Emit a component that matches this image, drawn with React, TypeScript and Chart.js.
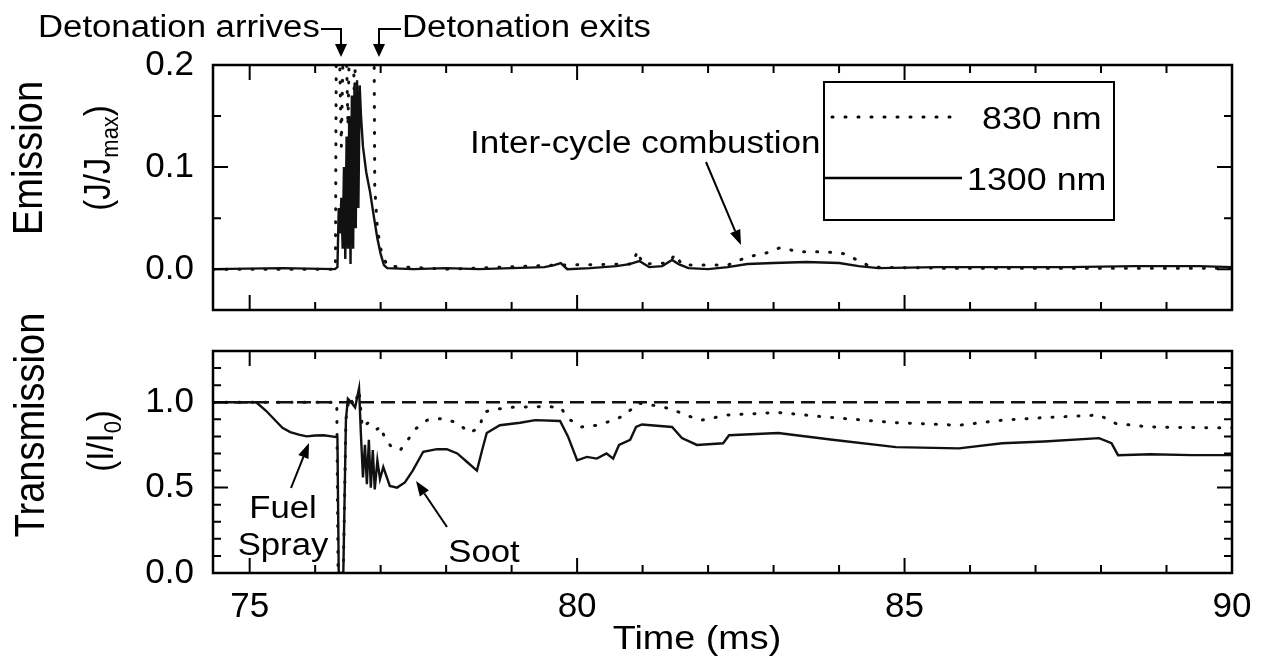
import React, { useEffect, useRef } from "react";
import { Chart, registerables } from "chart.js";
Chart.register(...registerables);

const FONT = '"Liberation Sans", Arial, Helvetica, sans-serif';

// ---- axes ----
const timeMin = 74.44;
const timeMax = 90;
const timeTicks = [75, 80, 85, 90];
const timeMinorTicks = [75, 76, 77, 78, 79, 80, 81, 82, 83, 84, 85, 86, 87, 88, 89, 90];

const emissionMin = -0.04;
const emissionMax = 0.2;
const emissionTicks = [0, 0.1, 0.2];
const emissionMinorTicks = [0.05, 0.15];

const transMin = 0;
const transMax = 1.3;
const transTicks = [0, 0.5, 1.0];
const transMinorTicks = [0.1, 0.2, 0.3, 0.4, 0.6, 0.7, 0.8, 0.9, 1.1, 1.2];

// ---- emission (top panel) ----
const emTime1300 = [74.44, 75.5, 76.3, 76.34, 76.36, 76.38, 76.4, 76.42, 76.44, 76.46, 76.48, 76.5, 76.52, 76.54, 76.56, 76.58, 76.6, 76.62, 76.64, 76.66, 76.68, 76.7, 76.73, 76.78, 76.84, 76.9, 76.95, 77.0, 77.05, 77.1, 77.5, 78.0, 78.5, 79.0, 79.5, 79.65, 79.75, 79.85, 80.2, 80.6, 80.8, 80.95, 81.1, 81.3, 81.45, 81.55, 81.7, 82.0, 82.3, 82.6, 83.0, 83.5, 84.0, 84.3, 84.6, 85.5, 86.5, 87.5, 88.5, 89.5, 90.0];
const em1300 = [0, 0.001, 0, 0.002, 0.06, 0.035, 0.07, 0.02, 0.1, 0.01, 0.13, 0.02, 0.15, 0.005, 0.17, 0.02, 0.18, 0.04, 0.185, 0.06, 0.18, 0.15, 0.12, 0.095, 0.075, 0.05, 0.03, 0.015, 0.004, 0.001, 0, 0.001, 0, 0.001, 0.002, 0.004, 0.006, 0, 0.001, 0.003, 0.005, 0.008, 0.002, 0.003, 0.009, 0.005, 0.001, 0, 0.002, 0.005, 0.006, 0.007, 0.006, 0.003, 0.001, 0.002, 0.002, 0.002, 0.003, 0.003, 0.002];

const emTime830 = [74.44, 76.31, 76.33, 76.4, 76.45, 76.5, 76.55, 76.6, 76.65, 76.7, 76.75, 76.82, 76.89, 76.91, 76.95, 77.0, 77.1, 78.0, 79.7, 80.85, 80.92, 81.0, 81.4, 81.5, 81.6, 82.3, 82.6, 82.9, 83.1, 83.4, 83.8, 84.1, 84.3, 84.5, 85.5, 90.0];
const em830 = [0, 0, 0.35, 0.12, 0.3, 0.14, 0.32, 0.16, 0.33, 0.2, 0.34, 0.3, 0.35, 0.08, 0.04, 0.02, 0.003, 0, 0.004, 0.005, 0.018, 0.005, 0.006, 0.015, 0.004, 0.004, 0.012, 0.016, 0.021, 0.017, 0.017, 0.015, 0.008, 0.002, 0.001, 0.001];

// ---- transmission (bottom panel) ----
const trTime1300 = [74.44, 75.1, 75.25, 75.4, 75.5, 75.62, 75.75, 75.87, 76.0, 76.13, 76.25, 76.34, 76.36, 76.43, 76.47, 76.5, 76.55, 76.61, 76.67, 76.7, 76.73, 76.76, 76.79, 76.82, 76.85, 76.88, 76.91, 76.95, 76.99, 77.04, 77.14, 77.25, 77.37, 77.49, 77.65, 77.86, 78.01, 78.17, 78.32, 78.47, 78.55, 78.62, 78.82, 79.13, 79.36, 79.74, 79.86, 80.0, 80.15, 80.3, 80.45, 80.55, 80.64, 80.81, 80.9, 80.99, 81.45, 81.6, 81.83, 82.23, 82.32, 83.07, 83.9, 84.87, 85.83, 86.49, 87.13, 87.97, 88.16, 88.26, 88.75, 89.39, 89.91, 90.0];
const tr1300 = [1.0, 1.0, 0.95, 0.89, 0.85, 0.825, 0.81, 0.8, 0.805, 0.807, 0.8, 0.795, 0.0, 0.0, 0.9, 1.02, 1.0, 0.97, 1.08, 0.8, 0.56, 0.75, 0.52, 0.78, 0.5, 0.72, 0.49, 0.66, 0.55, 0.62, 0.51, 0.5, 0.53, 0.6, 0.71, 0.725, 0.725, 0.7, 0.65, 0.6, 0.72, 0.82, 0.865, 0.88, 0.895, 0.89, 0.8, 0.66, 0.68, 0.67, 0.7, 0.67, 0.75, 0.78, 0.855, 0.87, 0.855, 0.79, 0.75, 0.76, 0.807, 0.82, 0.78, 0.737, 0.73, 0.76, 0.77, 0.79, 0.76, 0.69, 0.695, 0.69, 0.69, 0.69];

const trTime830 = [74.44, 76.33, 76.35, 76.43, 76.47, 76.52, 76.6, 76.67, 76.72, 76.81, 76.94, 77.0, 77.07, 77.19, 77.3, 77.4, 77.52, 77.71, 77.94, 78.17, 78.36, 78.52, 78.56, 78.67, 79.0, 79.5, 79.75, 79.86, 80.06, 80.3, 80.56, 80.73, 80.93, 81.2, 81.45, 81.65, 81.9, 82.29, 83.07, 83.9, 84.87, 85.83, 86.49, 87.13, 87.97, 88.23, 88.75, 89.71, 90.0];
const tr830 = [1.0, 1.0, 0.0, 0.0, 0.9, 1.03, 0.98, 1.07, 0.85, 0.88, 0.84, 0.86, 0.78, 0.73, 0.72, 0.77, 0.84, 0.895, 0.905, 0.88, 0.82, 0.855, 0.935, 0.955, 0.97, 0.975, 0.97, 0.905, 0.855, 0.865, 0.895, 0.925, 0.995, 0.98, 0.96, 0.925, 0.895, 0.925, 0.94, 0.91, 0.88, 0.865, 0.895, 0.91, 0.925, 0.875, 0.855, 0.85, 0.85];

const refTime = [timeMin, timeMax];
const refLevel = [1.0, 1.0];

const legendLabels = ["830 nm", "1300 nm"];

// ---- helpers ----
const pts = (xs: number[], ys: number[]) => xs.map((x, i) => ({ x, y: ys[i] }));

function txt(ctx: CanvasRenderingContext2D, s: string, x: number, y: number, size: number, align: CanvasTextAlign = "left", sx = 1.12) {
  ctx.save();
  ctx.font = `${size}px ${FONT}`;
  ctx.fillStyle = "#000";
  ctx.textBaseline = "alphabetic";
  ctx.textAlign = align;
  ctx.translate(x, y);
  ctx.scale(sx, 1);
  ctx.fillText(s, 0, 0);
  ctx.restore();
}

type Part = { t: string; size: number; dy: number };
function vtxt(ctx: CanvasRenderingContext2D, parts: Part[], baseX: number, cy: number, sy = 1.1) {
  ctx.save();
  ctx.fillStyle = "#000";
  ctx.textBaseline = "alphabetic";
  ctx.textAlign = "left";
  let total = 0;
  for (const p of parts) {
    ctx.font = `${p.size}px ${FONT}`;
    total += ctx.measureText(p.t).width;
  }
  ctx.translate(baseX, cy);
  ctx.rotate(-Math.PI / 2);
  ctx.scale(1, sy);
  let x = -total / 2;
  for (const p of parts) {
    ctx.font = `${p.size}px ${FONT}`;
    ctx.fillText(p.t, x, p.dy);
    x += ctx.measureText(p.t).width;
  }
  ctx.restore();
}

function arrow(ctx: CanvasRenderingContext2D, x1: number, y1: number, x2: number, y2: number, len = 15, w = 5.5) {
  const a = Math.atan2(y2 - y1, x2 - x1);
  const bx = x2 - len * Math.cos(a);
  const by = y2 - len * Math.sin(a);
  ctx.save();
  ctx.strokeStyle = "#000";
  ctx.fillStyle = "#000";
  ctx.lineWidth = 2;
  ctx.beginPath();
  ctx.moveTo(x1, y1);
  ctx.lineTo(bx, by);
  ctx.stroke();
  ctx.beginPath();
  ctx.moveTo(x2, y2);
  ctx.lineTo(bx + w * Math.sin(a), by - w * Math.cos(a));
  ctx.lineTo(bx - w * Math.sin(a), by + w * Math.cos(a));
  ctx.closePath();
  ctx.fill();
  ctx.restore();
}

function framePlugin(id: string, yMajor: number[], yMinor: number[], extra: (ctx: CanvasRenderingContext2D, chart: any) => void) {
  return {
    id,
    afterDraw(chart: any) {
      const { ctx, chartArea: a } = chart;
      const xs = chart.scales.x;
      const ys = chart.scales.y;
      ctx.save();
      ctx.strokeStyle = "#000";
      ctx.lineWidth = 2.5;
      ctx.strokeRect(a.left, a.top, a.right - a.left, a.bottom - a.top);
      ctx.lineWidth = 2;
      const major = 15;
      const minor = 8;
      ctx.beginPath();
      for (const v of timeMinorTicks) {
        const L = timeTicks.includes(v) ? major : minor;
        const px = xs.getPixelForValue(v);
        ctx.moveTo(px, a.bottom);
        ctx.lineTo(px, a.bottom - L);
        ctx.moveTo(px, a.top);
        ctx.lineTo(px, a.top + L);
      }
      const ys2 = [...yMajor.map((v) => [v, major]), ...yMinor.map((v) => [v, minor])];
      for (const [v, L] of ys2) {
        const py = ys.getPixelForValue(v);
        ctx.moveTo(a.left, py);
        ctx.lineTo(a.left + L, py);
        ctx.moveTo(a.right, py);
        ctx.lineTo(a.right - L, py);
      }
      ctx.stroke();
      ctx.restore();
      extra(ctx, chart);
    },
  };
}

const solid = { borderColor: "#111", borderWidth: 2.4, pointRadius: 0, tension: 0, fill: false };
const dotted = { borderColor: "#111", borderWidth: 3, pointRadius: 0, tension: 0, fill: false, borderDash: [1, 12], borderCapStyle: "round" };

function yScale(min: number, max: number, ticks: number[], width: number) {
  return {
    type: "linear",
    min,
    max,
    afterBuildTicks: (s: any) => {
      s.ticks = ticks.map((v) => ({ value: v }));
    },
    afterFit: (s: any) => {
      s.width = width;
      s.paddingTop = 0;
      s.paddingBottom = 0;
    },
    grid: { display: false, drawTicks: false, tickLength: 0 },
    border: { display: false },
    ticks: {
      padding: 19,
      color: "#000",
      font: { family: FONT, size: 35 },
      callback: (v: any) => Number(v).toFixed(1),
    },
  };
}

// bottom canvas page offset
const BOT_TOP = 270;
const BOT_H = 388;

export default function App() {
  const topRef = useRef<HTMLCanvasElement>(null);
  const botRef = useRef<HTMLCanvasElement>(null);

  useEffect(() => {
    const topExtra = (ctx: CanvasRenderingContext2D) => {
      // detonation annotations
      txt(ctx, "Detonation arrives", 38, 37, 31);
      txt(ctx, "Detonation exits", 402, 37, 31);
      ctx.save();
      ctx.strokeStyle = "#000";
      ctx.lineWidth = 2;
      ctx.beginPath();
      ctx.moveTo(321, 29);
      ctx.lineTo(341, 29);
      ctx.lineTo(341, 46);
      ctx.moveTo(401, 29);
      ctx.lineTo(379, 29);
      ctx.lineTo(379, 46);
      ctx.stroke();
      ctx.fillStyle = "#000";
      for (const ax of [341, 379]) {
        ctx.beginPath();
        ctx.moveTo(ax - 6, 44);
        ctx.lineTo(ax + 6, 44);
        ctx.lineTo(ax, 57);
        ctx.closePath();
        ctx.fill();
      }
      ctx.restore();
      // inter-cycle
      txt(ctx, "Inter-cycle combustion", 470, 153, 31, "left", 1.13);
      arrow(ctx, 706, 162, 741, 245);
      // legend
      const lx = 824, ly = 82, lw = 290, lh = 138;
      ctx.save();
      ctx.fillStyle = "#fff";
      ctx.fillRect(lx, ly, lw, lh);
      ctx.strokeStyle = "#000";
      ctx.lineWidth = 2;
      ctx.strokeRect(lx, ly, lw, lh);
      ctx.lineWidth = 3;
      ctx.lineCap = "round";
      ctx.setLineDash([1, 12]);
      ctx.beginPath();
      ctx.moveTo(lx + 8, 117);
      ctx.lineTo(lx + 135, 117);
      ctx.stroke();
      ctx.setLineDash([]);
      ctx.lineCap = "butt";
      ctx.lineWidth = 2.4;
      ctx.beginPath();
      ctx.moveTo(lx, 178);
      ctx.lineTo(lx + 138, 178);
      ctx.stroke();
      ctx.restore();
      txt(ctx, legendLabels[0], lx + 158, 129, 32, "left", 1.12);
      txt(ctx, legendLabels[1], lx + 143, 190, 32, "left", 1.12);
      // y titles
      vtxt(ctx, [{ t: "Emission", size: 38, dy: 0 }], 42, 158);
      vtxt(ctx, [
        { t: "(J/J", size: 33, dy: 0 },
        { t: "max", size: 22, dy: 7 },
        { t: ")", size: 33, dy: 0 },
      ], 110, 158);
    };

    const o = BOT_TOP;
    const botExtra = (ctx: CanvasRenderingContext2D) => {
      txt(ctx, "Fuel", 283, 518 - o, 31, "center");
      txt(ctx, "Spray", 283, 555 - o, 31, "center");
      arrow(ctx, 291, 488 - o, 309, 443 - o);
      txt(ctx, "Soot", 484, 562 - o, 31, "center");
      arrow(ctx, 447, 527 - o, 416, 481 - o);
      txt(ctx, "Time (ms)", 697, 649 - o, 34, "center", 1.11);
      vtxt(ctx, [{ t: "Transmission", size: 38, dy: 0 }], 44, 425 - o);
      vtxt(ctx, [
        { t: "(I/I", size: 33, dy: 0 },
        { t: "0", size: 22, dy: 7 },
        { t: ")", size: 33, dy: 0 },
      ], 113, 441 - o);
    };

    const common = {
      animation: false,
      responsive: false,
      events: [],
      plugins: { legend: { display: false }, tooltip: { enabled: false } },
    };

    const top = new Chart(topRef.current as HTMLCanvasElement, {
      type: "line",
      data: {
        datasets: [
          { ...dotted, label: legendLabels[0], data: pts(emTime830, em830) },
          { ...solid, label: legendLabels[1], data: pts(emTime1300, em1300) },
        ],
      },
      options: {
        ...common,
        layout: { padding: { left: 0, right: 31, top: 65, bottom: 20 } },
        scales: {
          x: {
            type: "linear",
            min: timeMin,
            max: timeMax,
            afterFit: (s: any) => {
              s.height = 0;
              s.paddingLeft = 0;
              s.paddingRight = 0;
            },
            grid: { display: false, drawTicks: false },
            border: { display: false },
            ticks: { display: false },
          },
          y: yScale(emissionMin, emissionMax, emissionTicks, 213),
        },
      } as any,
      plugins: [framePlugin("frameTop", emissionTicks, emissionMinorTicks, topExtra)],
    } as any);

    const bot = new Chart(botRef.current as HTMLCanvasElement, {
      type: "line",
      data: {
        datasets: [
          { ...solid, borderWidth: 2.4, borderDash: [14, 7], label: "I0", data: pts(refTime, refLevel) },
          { ...dotted, label: legendLabels[0], data: pts(trTime830, tr830) },
          { ...solid, label: legendLabels[1], data: pts(trTime1300, tr1300) },
        ],
      },
      options: {
        ...common,
        layout: { padding: { left: 0, right: 31, top: 351 - BOT_TOP, bottom: 0 } },
        scales: {
          x: {
            type: "linear",
            min: timeMin,
            max: timeMax,
            afterBuildTicks: (s: any) => {
              s.ticks = timeTicks.map((v) => ({ value: v }));
            },
            afterFit: (s: any) => {
              s.height = 85;
              s.paddingLeft = 0;
              s.paddingRight = 0;
            },
            grid: { display: false, drawTicks: false, tickLength: 0 },
            border: { display: false },
            ticks: {
              padding: 13,
              autoSkip: false,
              maxRotation: 0,
              color: "#000",
              font: { family: FONT, size: 35 },
              callback: (v: any) => String(v),
            },
          },
          y: yScale(transMin, transMax, transTicks, 213),
        },
      } as any,
      plugins: [framePlugin("frameBot", transTicks, transMinorTicks, botExtra)],
    } as any);

    return () => {
      top.destroy();
      bot.destroy();
    };
  }, []);

  return (
    <div style={{ position: "fixed", left: 0, top: 0, width: 1263, height: 658, background: "#fff", overflow: "hidden" }}>
      <canvas ref={topRef} width={1263} height={330} style={{ position: "absolute", left: 0, top: 0 }} />
      <canvas ref={botRef} width={1263} height={BOT_H} style={{ position: "absolute", left: 0, top: BOT_TOP }} />
    </div>
  );
}
